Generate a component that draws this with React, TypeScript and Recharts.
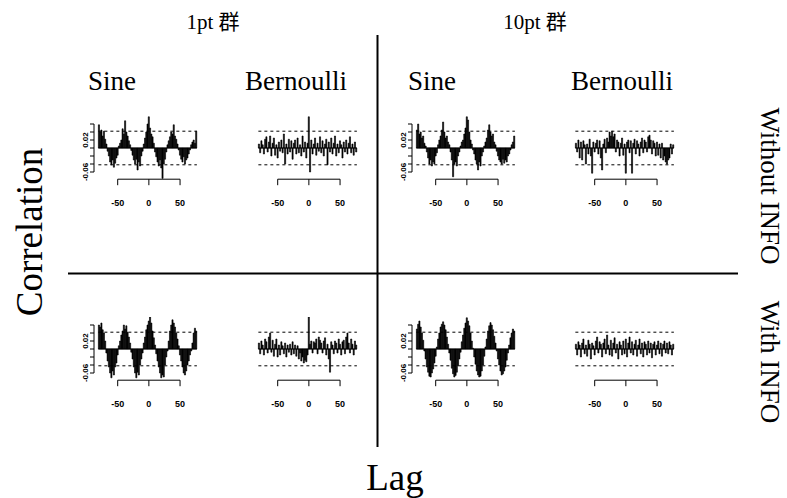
import { BarChart, Bar, XAxis, YAxis, ReferenceLine } from "recharts";

// lags shown in every correlogram
const LAGS = [
  -80, -78, -76, -74, -72, -70, -68, -66, -64, -62, -60, -58, -56, -54, -52, -50, -48, -46, -44, -42,
  -40, -38, -36, -34, -32, -30, -28, -26, -24, -22, -20, -18, -16, -14, -12, -10, -8, -6, -4, -2,
  0, 2, 4, 6, 8, 10, 12, 14, 16, 18, 20, 22, 24, 26, 28, 30, 32, 34, 36, 38,
  40, 42, 44, 46, 48, 50, 52, 54, 56, 58, 60, 62, 64, 66, 68, 70, 72, 74, 76,
];

const SINE_1PT_WITHOUT = [
  .058, .040, .045, .030, .042, .022, .010, -.008, -.020, -.035, -.042, -.030, -.048, -.038, -.025, -.018, .005, .012, .020, .048,
  .035, .068, .040, .030, .018, .008, -.006, -.018, -.030, -.040, -.028, -.055, -.035, -.045, -.020, -.008, .010, .025, .040, .060,
  .078, .050, .035, .028, .012, -.010, -.022, -.035, -.045, -.030, -.050, -.076, -.040, -.028, -.010, .008, .018, .028, .040, .035,
  .058, .030, .022, .010, -.005, -.018, -.028, -.035, -.022, -.040, -.030, -.025, -.015, -.005, .008, .015, .020, .012, .042,
];
const BERN_1PT_WITHOUT = [
  .010, -.012, .018, .008, -.015, .022, .028, -.010, .015, .030, -.020, .012, .025, -.018, .008, -.025, .015, -.008, .020, -.012,
  .035, -.040, .010, -.015, .022, -.010, .018, -.028, .012, .020, -.015, .025, -.012, .008, -.020, .030, -.010, .015, -.025, .012,
  .078, -.060, .020, -.015, .010, .025, -.018, .012, -.008, .028, -.012, .018, -.020, .010, .022, -.042, .015, -.010, .025, -.015,
  .012, .030, -.020, .010, -.012, .018, .008, -.025, .015, -.010, .020, -.015, .012, .028, -.012, .010, -.018, .015, -.010,
];
const SINE_10PT_WITHOUT = [
  .045, .060, .035, .040, .025, .030, .012, .005, -.010, -.025, -.040, -.030, -.045, -.035, -.040, -.020, -.012, .008, .020, .030,
  .045, .065, .040, .025, .030, .015, .008, -.010, -.030, -.072, -.040, -.035, -.045, -.020, -.010, .005, .015, .020, .035, .050,
  .078, .070, .040, .020, .010, -.005, -.015, -.030, -.040, -.055, -.035, -.045, -.020, -.010, .005, .015, .025, .045, .058, .040,
  .030, .035, .015, .008, -.008, -.020, -.030, -.035, -.040, -.028, -.038, -.030, -.035, -.020, -.015, -.005, .008, .015, .030,
];
const BERN_10PT_WITHOUT = [
  .012, -.010, .020, -.025, .015, -.030, .018, .008, -.040, .010, -.015, .022, -.020, -.063, .015, -.010, .012, .020, -.015, .018,
  -.025, -.055, .010, .022, -.012, .025, .015, .040, .030, .042, .028, .035, -.010, .020, .015, -.020, .012, .025, -.018, .010,
  -.063, .015, .020, -.012, .018, -.063, .012, .022, -.015, .018, .010, -.020, .015, .025, -.012, .020, .015, -.010, .028, .032,
  .020, -.015, .018, .012, -.020, .015, -.018, .010, -.025, .012, -.030, -.020, -.035, -.040, -.030, -.025, .010, -.015, .008,
];
const SINE_1PT_WITH = [
  .060, .055, .065, .048, .040, .020, -.010, -.030, -.045, -.060, -.072, -.055, -.065, -.045, -.035, -.015, .008, .020, .035, .045,
  .060, .050, .058, .042, .030, .015, -.008, -.025, -.045, -.060, -.072, -.058, -.065, -.040, -.025, -.010, .015, .030, .048, .060,
  .070, .080, .065, .045, .028, .010, -.012, -.030, -.045, -.060, -.072, -.065, -.070, -.040, -.020, -.005, .020, .045, .060, .073,
  .065, .055, .040, .025, .008, -.015, -.030, -.045, -.060, -.065, -.055, -.040, -.030, -.015, -.005, .015, .040, .052, .045,
];
const BERN_1PT_WITH = [
  .015, -.012, .020, .010, -.015, .025, .018, -.010, .030, .040, -.008, .022, -.018, .012, .025, -.020, .010, -.015, .018, .008,
  -.012, .015, -.020, .010, -.008, .012, -.015, .018, -.012, .010, -.018, .008, -.025, -.010, -.030, -.020, -.035, -.028, -.032, -.015,
  .080, .012, .020, -.010, .018, .015, .025, -.012, .030, .022, .015, -.010, .020, .028, -.015, .012, -.025, -.058, .018, .010,
  -.012, .020, .015, -.010, .025, .012, -.015, .018, .022, -.012, .030, .040, .015, -.010, .025, .012, -.015, .020, .010,
];
const SINE_10PT_WITH = [
  .050, .062, .070, .055, .040, .022, -.005, -.025, -.045, -.058, -.068, -.070, -.060, -.050, -.035, -.018, .005, .025, .040, .055,
  .062, .068, .060, .048, .030, .012, -.010, -.028, -.048, -.062, -.070, -.066, -.058, -.042, -.025, -.008, .018, .035, .052, .065,
  .078, .070, .058, .040, .020, .002, -.020, -.038, -.055, -.065, -.070, -.068, -.055, -.040, -.018, .005, .025, .045, .058, .066,
  .060, .048, .032, .015, -.005, -.025, -.040, -.055, -.065, -.062, -.055, -.045, -.028, -.010, .010, .028, .040, .050, .045,
];
const BERN_10PT_WITH = [
  .012, -.015, .018, .010, -.020, .015, .025, -.012, .010, -.018, .022, .012, -.025, .015, .008, -.015, .020, .030, -.010, .018,
  .012, -.020, .015, .025, -.012, .035, .010, -.015, .022, -.018, .015, .028, -.010, .012, -.025, .018, .010, -.015, .020, -.012,
  .025, -.020, .015, .030, -.010, .018, -.015, .012, .022, -.018, .010, .025, -.012, .015, -.020, .018, .012, -.015, .020, -.010,
  .015, -.022, .012, .018, -.015, .010, .020, -.012, .015, -.018, .012, .020, -.010, .015, -.012, .018, .010, -.015, .012,
];

const X_TICKS = [-50, 0, 50];
const Y_TICKS = [-0.06, -0.04, -0.02, 0, 0.02, 0.04, 0.06];
const Y_LABELS = [0.02, -0.06];
const CONF = 0.042;
const BRACKET_Y = -0.078;
const BRACKET_TICK_Y = -0.093;

const SERIF = "'Liberation Serif', 'Times New Roman', 'Noto Sans CJK SC', serif";
const SANS = "'Liberation Sans', Arial, sans-serif";

function XTick(props: any) {
  const { x, y, payload } = props;
  return (
    <text x={x} y={y + 17} textAnchor="middle" dominantBaseline="central" fontSize={9} fontWeight="bold" fontFamily={SANS} fill="#000">
      {payload.value}
    </text>
  );
}

function YTick(props: any) {
  const { x, y, payload } = props;
  if (!Y_LABELS.some((v) => Math.abs(v - payload.value) < 1e-9)) return <g />;
  return (
    <text x={x} y={y} transform={`rotate(-90 ${x} ${y})`} textAnchor="middle" fontSize={8} fontWeight="bold" fontFamily={SANS} fill="#000">
      {payload.value.toFixed(2)}
    </text>
  );
}

type PanelProps = { values: number[]; left: number; top: number; showY: boolean };

function Panel({ values, left, top, showY }: PanelProps) {
  const data = LAGS.map((lag, i) => ({ lag, r: values[i] }));
  return (
    <div style={{ position: "absolute", left, top }}>
      <BarChart width={120} height={96} data={data} margin={{ top: 0, right: 0, bottom: 0, left: 0 }}>
        <XAxis
          dataKey="lag"
          type="number"
          domain={[-88, 82]}
          allowDataOverflow
          ticks={X_TICKS}
          interval={0}
          axisLine={false}
          tickLine={false}
          tickSize={0}
          tickMargin={0}
          height={26}
          tick={(p: any) => <XTick {...p} />}
        />
        <YAxis
          type="number"
          domain={[-0.095, 0.08]}
          allowDataOverflow
          ticks={Y_TICKS}
          interval={0}
          width={14}
          axisLine={false}
          tickLine={showY ? { stroke: "#000" } : false}
          tickSize={4}
          tickMargin={2}
          tick={showY ? (p: any) => <YTick {...p} /> : false}
        />
        {showY && (
          <ReferenceLine
            segment={[{ x: -88, y: -0.06 }, { x: -88, y: 0.06 }]}
            stroke="#000"
            ifOverflow="visible"
          />
        )}
        <ReferenceLine segment={[{ x: -81, y: 0 }, { x: 77, y: 0 }]} stroke="#000" ifOverflow="visible" />
        <ReferenceLine segment={[{ x: -81, y: CONF }, { x: 77, y: CONF }]} stroke="#000" strokeDasharray="3 3" ifOverflow="visible" />
        <ReferenceLine segment={[{ x: -81, y: -CONF }, { x: 77, y: -CONF }]} stroke="#000" strokeDasharray="3 3" ifOverflow="visible" />
        <ReferenceLine segment={[{ x: -50, y: BRACKET_Y }, { x: 50, y: BRACKET_Y }]} stroke="#000" ifOverflow="visible" />
        {X_TICKS.map((t) => (
          <ReferenceLine key={t} segment={[{ x: t, y: BRACKET_Y }, { x: t, y: BRACKET_TICK_Y }]} stroke="#000" ifOverflow="visible" />
        ))}
        <Bar dataKey="r" fill="#000" stroke="#000" strokeWidth={0.6} barSize={2} isAnimationActive={false} />
      </BarChart>
    </div>
  );
}

export default function App() {
  return (
    <div style={{ position: "absolute", left: 0, top: 0, width: 787, height: 498, background: "#fff", overflow: "hidden" }}>
      <svg width={787} height={498} style={{ position: "absolute", left: 0, top: 0 }} fontFamily={SERIF} fill="#000">
        <line x1={377.5} y1={35} x2={377.5} y2={447} stroke="#000" strokeWidth={2} />
        <line x1={68} y1={273.5} x2={738} y2={273.5} stroke="#000" strokeWidth={2} />
        <text x={213} y={22} textAnchor="middle" dominantBaseline="central" fontSize={21}>1pt 群</text>
        <text x={535} y={22} textAnchor="middle" dominantBaseline="central" fontSize={21}>10pt 群</text>
        <text x={112} y={90} textAnchor="middle" fontSize={27}>Sine</text>
        <text x={296} y={90} textAnchor="middle" fontSize={27}>Bernoulli</text>
        <text x={432} y={90} textAnchor="middle" fontSize={27}>Sine</text>
        <text x={622} y={90} textAnchor="middle" fontSize={27}>Bernoulli</text>
        <text x={29} y={232} transform="rotate(-90 29 232)" textAnchor="middle" dominantBaseline="central" fontSize={37}>Correlation</text>
        <text x={395} y={477} textAnchor="middle" dominantBaseline="central" fontSize={37}>Lag</text>
        <text x={770} y={186} transform="rotate(90 770 186)" textAnchor="middle" dominantBaseline="central" fontSize={27}>Without INFO</text>
        <text x={770} y={362} transform="rotate(90 770 362)" textAnchor="middle" dominantBaseline="central" fontSize={27}>With INFO</text>
      </svg>
      <Panel values={SINE_1PT_WITHOUT} left={80} top={116} showY />
      <Panel values={BERN_1PT_WITHOUT} left={240} top={116} showY={false} />
      <Panel values={SINE_10PT_WITHOUT} left={398} top={116} showY />
      <Panel values={BERN_10PT_WITHOUT} left={557} top={116} showY={false} />
      <Panel values={SINE_1PT_WITH} left={80} top={317} showY />
      <Panel values={BERN_1PT_WITH} left={240} top={317} showY={false} />
      <Panel values={SINE_10PT_WITH} left={398} top={317} showY />
      <Panel values={BERN_10PT_WITH} left={557} top={317} showY={false} />
    </div>
  );
}
